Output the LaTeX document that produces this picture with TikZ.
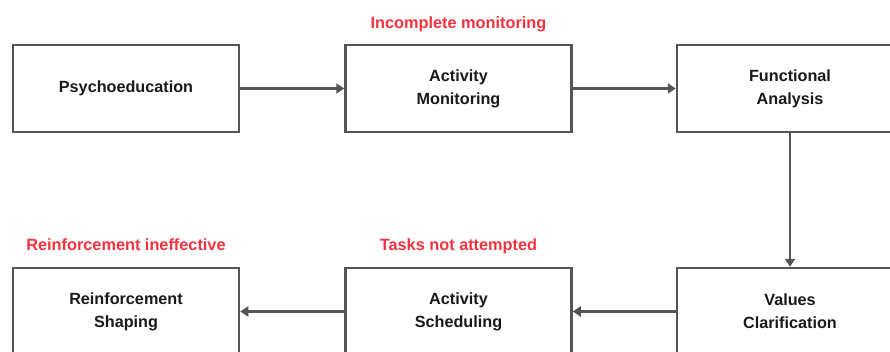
\documentclass[tikz,border=0pt]{standalone}
\usepackage{fontspec}
\setmainfont{Liberation Sans}
\usetikzlibrary{arrows.meta}
\definecolor{linegray}{HTML}{555555}
\definecolor{warnred}{HTML}{F5333F}
\tikzset{
  stagebox/.style={draw=linegray, line width=2.5pt, minimum width=226pt, minimum height=87pt, inner sep=0pt, align=center, font=\fontsize{16.2}{23}\selectfont\bfseries, text=black!90},
  flowarrow/.style={draw=linegray, line width=2.5pt, -{Triangle[width=10pt,length=8pt]}},
  warnlabel/.style={text=warnred, font=\fontsize{16.3}{19}\selectfont\bfseries, inner sep=0pt, anchor=base}
}
\begin{document}
\begin{tikzpicture}[x=1pt,y=-1pt]
\useasboundingbox (0,0) rectangle (890,351);
\clip (0,0) rectangle (890,351);
\node[stagebox] (psy) at (126,88.5) {Psychoeducation};
\node[stagebox] (mon) at (458.5,88.5) {Activity\\Monitoring};
\node[stagebox] (fun) at (790,88.5) {Functional\\Analysis};
\node[stagebox] (val) at (790,311.5) {Values\\Clarification};
\node[stagebox] (sch) at (458.5,311.5) {Activity\\Scheduling};
\node[stagebox] (rei) at (126,311.5) {Reinforcement\\Shaping};
\draw[flowarrow] (psy) -- (mon);
\draw[flowarrow] (mon) -- (fun);
\draw[flowarrow] (fun) -- (val);
\draw[flowarrow] (val) -- (sch);
\draw[flowarrow] (sch) -- (rei);
\node[warnlabel] (l1) at (458.5,28) {Incomplete monitoring};
\node[warnlabel] (l2) at (458.5,250) {Tasks not attempted};
\node[warnlabel] (l3) at (126,250) {Reinforcement ineffective};
\end{tikzpicture}
\end{document}
